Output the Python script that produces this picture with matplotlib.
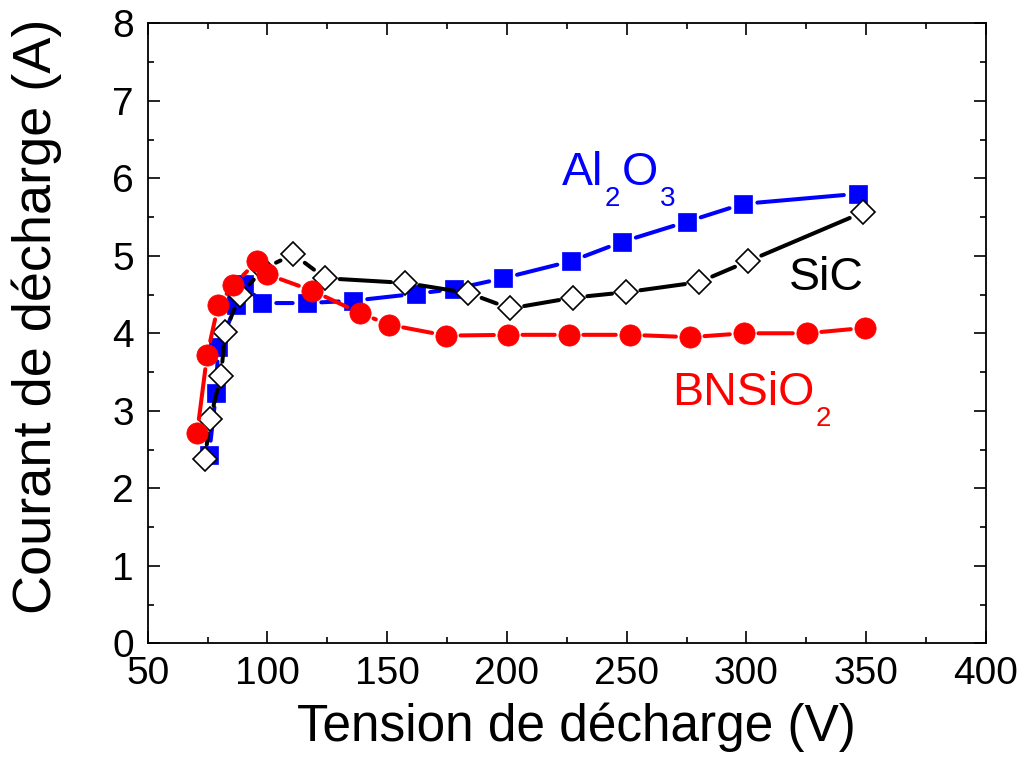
import matplotlib
matplotlib.use("Agg")
import matplotlib.pyplot as plt
from matplotlib.ticker import MultipleLocator
from matplotlib.transforms import offset_copy

plt.rcParams['font.family'] = ['Liberation Sans', 'DejaVu Sans']

# ---- data ----
al2o3_v = [75.6, 78.5, 79.4, 86.9, 90.2, 97.7, 116.5, 135.7, 162.0, 177.9, 198.4, 226.8, 248.1, 275.2, 298.6, 346.6]
al2o3_i = [2.43, 3.23, 3.82, 4.36, 4.63, 4.39, 4.39, 4.42, 4.51, 4.57, 4.71, 4.93, 5.18, 5.44, 5.67, 5.80]

sic_v = [73.9, 76.0, 80.6, 82.3, 88.5, 98.2, 110.8, 124.2, 157.5, 183.8, 201.3, 227.6, 249.8, 280.2, 300.7, 348.6]
sic_i = [2.38, 2.89, 3.45, 4.02, 4.49, 4.83, 5.02, 4.71, 4.65, 4.52, 4.32, 4.46, 4.53, 4.66, 4.93, 5.56]

bnsio2_v = [70.6, 74.8, 79.4, 85.6, 95.7, 99.9, 118.7, 138.7, 150.8, 174.6, 200.5, 225.9, 251.4, 276.5, 299.0, 325.3, 349.5]
bnsio2_i = [2.71, 3.72, 4.36, 4.62, 4.93, 4.76, 4.55, 4.26, 4.11, 3.97, 3.98, 3.98, 3.98, 3.95, 4.00, 4.00, 4.07]

x_ticks = [50, 100, 150, 200, 250, 300, 350, 400]
y_ticks = [0, 1, 2, 3, 4, 5, 6, 7, 8]

fig = plt.figure(figsize=(10.21, 7.61), dpi=100)
ax = fig.add_axes([0.1447, 0.1547, 0.821, 0.8147])
ax.set_xlim(50, 400)
ax.set_ylim(0, 8)


def gapped_series(xs, ys, color, marker, ms, mfc, mec, mew, z):
    for k in range(len(xs) - 1):
        ax.annotate('', xy=(xs[k + 1], ys[k + 1]), xytext=(xs[k], ys[k]),
                    arrowprops=dict(arrowstyle='-', color=color, lw=2.9,
                                    shrinkA=10.3, shrinkB=10.3),
                    zorder=z)
    ax.plot(xs, ys, linestyle='none', marker=marker, ms=ms, mfc=mfc, mec=mec,
            mew=mew, zorder=z + 0.5)


gapped_series(al2o3_v, al2o3_i, '#0000ff', 's', 13.3, '#0000ff', '#0000ff', 0.5, 3)
gapped_series(sic_v, sic_i, 'black', 'D', 12.6, 'white', 'black', 1.2, 4)
gapped_series(bnsio2_v, bnsio2_i, '#ff0000', 'o', 15.3, '#ff0000', '#ff0000', 0.5, 5)

ax.set_xticks(x_ticks)
ax.set_yticks(y_ticks)
ax.xaxis.set_minor_locator(MultipleLocator(25))
ax.yaxis.set_minor_locator(MultipleLocator(0.5))
ax.tick_params(which='both', direction='in', top=True, right=True, width=1.2)
ax.tick_params(which='major', length=8.5, labelsize=28)
ax.tick_params(which='minor', length=4.5)
ax.tick_params(axis='x', which='major', pad=9)
ax.tick_params(axis='y', which='major', pad=10)
for sp in ax.spines.values():
    sp.set_linewidth(1.3)

ax.set_xlabel('Tension de décharge (V)', fontsize=37)
ax.set_ylabel('Courant de décharge (A)', fontsize=39)
ax.xaxis.set_label_coords(0.511, -0.095)
ax.yaxis.set_label_coords(-0.102, 0.527)

renderer = fig.canvas.get_renderer()


def chem(x, y, parts, color, size=33.5, subsize=20, drop=21):
    dx = 0.0
    for s, sub in parts:
        tr = offset_copy(ax.transData, fig=fig, x=dx, y=(-drop if sub else 0), units='dots')
        t = ax.text(x, y, s, transform=tr, fontsize=subsize if sub else size,
                    color=color, ha='left', va='baseline', zorder=6)
        dx += t.get_window_extent(renderer).width + 1.5


chem(223.0, 5.91, [('Al', False), ('2', True), ('O', False), ('3', True)], '#0000ff')
chem(268.8, 3.075, [('BNSiO', False), ('2', True)], '#ff0000')
chem(317.8, 4.56, [('SiC', False)], 'black')

fig.savefig('out.png', dpi=100)
